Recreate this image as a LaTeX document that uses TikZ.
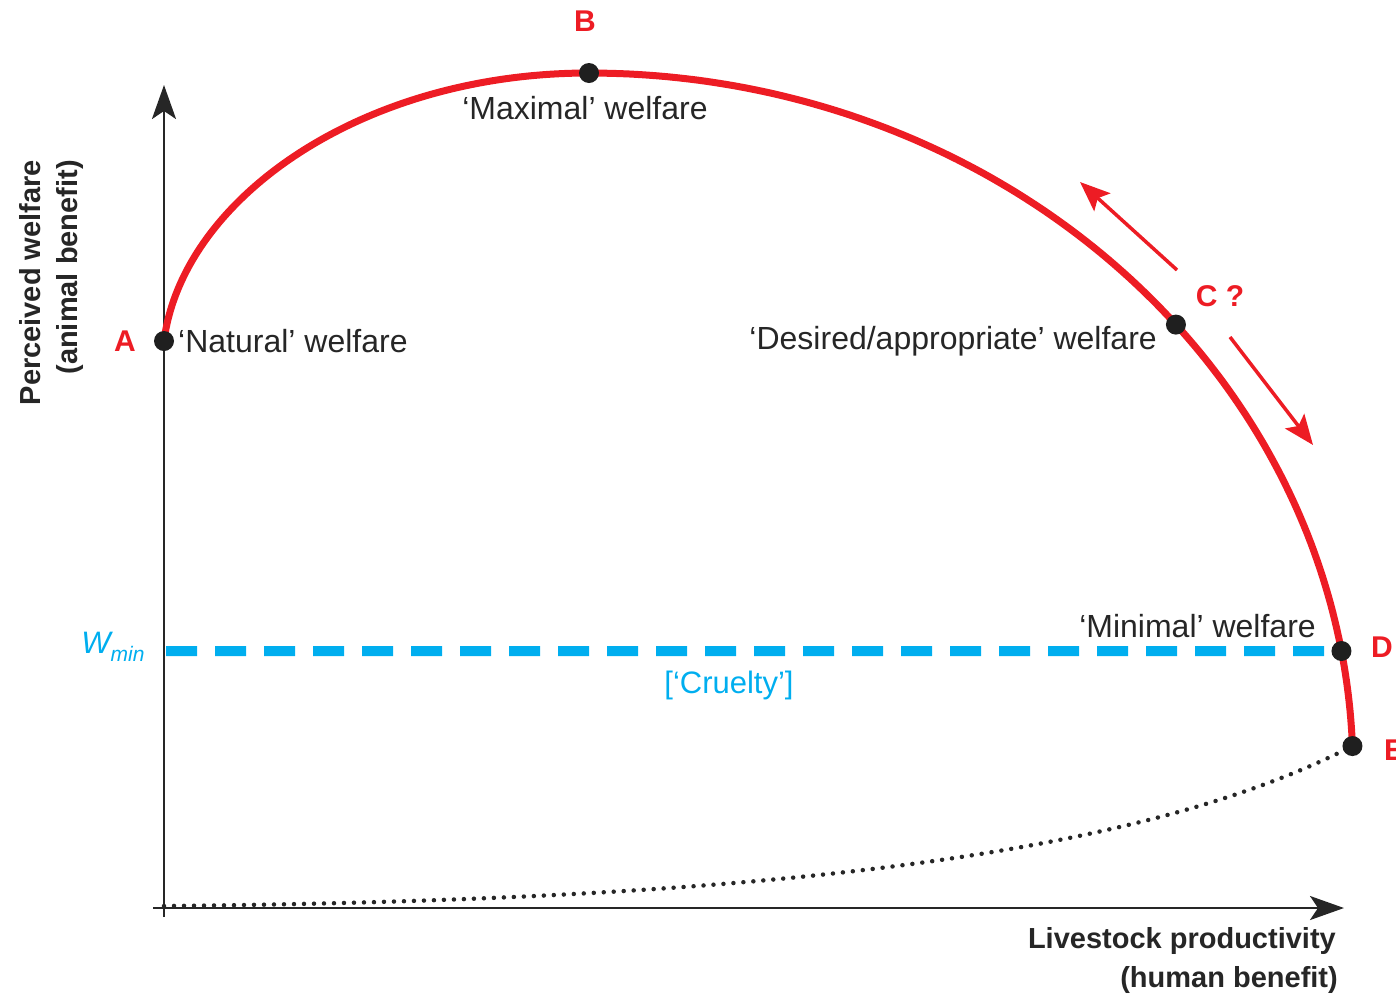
\documentclass[tikz,border=0pt]{standalone}
\usepackage{fontspec}
\setmainfont{Liberation Sans}
\usetikzlibrary{arrows.meta}
\definecolor{cred}{RGB}{237,28,36}
\definecolor{cblue}{RGB}{0,174,239}
\begin{document}
\begin{tikzpicture}[x=1pt,y=-1pt,
  lbl/.style={font=\fontsize{32}{36}\selectfont, inner sep=0pt, text=black!85},
  ptlbl/.style={font=\fontsize{30}{36}\selectfont\bfseries, text=cred, inner sep=0pt},
  axlbl/.style={font=\fontsize{29}{34}\selectfont\bfseries, inner sep=0pt, text=black!85},
  bluelbl/.style={font=\fontsize{31}{36}\selectfont, inner sep=0pt, text=cblue},
  dotnode/.style={circle, fill=black!88, inner sep=0pt, minimum size=20pt},
  axisline/.style={line width=2.6pt, black!85},
  curveline/.style={line width=7pt, cred},
  carrow/.style={line width=3.5pt, cred, -{Stealth[length=30pt,width=24pt,inset=6pt]}},
  wline/.style={line width=10pt, cblue, dash pattern=on 31pt off 18pt},
  dotline/.style={line width=4.5pt, black!85, line cap=round, dash pattern=on 0pt off 10pt}
]
\useasboundingbox (0,0) rectangle (1396,997);

% coordinates
\coordinate (O) at (164,906);
\coordinate (Ybot) at (164,917);
\coordinate (Ytop) at (164,85);
\coordinate (Xl) at (153,908);
\coordinate (Xr) at (1344,908);
\coordinate (A) at (164,341);
\coordinate (B) at (589,73);
\coordinate (C) at ({589+764*cos(39.8)},{772-699*sin(39.8)});
\coordinate (D) at ({589+764*cos(9.97)},{772-699*sin(9.97)});
\coordinate (E) at ({589+764*cos(2.13)},{772-699*sin(2.13)});
\coordinate (W) at (166,651);

% axes
\draw[axisline, -{Stealth[length=34pt,width=24pt,inset=8pt]}] (Ybot) -- (Ytop);
\draw[axisline, -{Stealth[length=34pt,width=24pt,inset=8pt]}] (Xl) -- (Xr);

% dotted curve
\draw[dotline] (O) .. controls (800,900) and (1150,850) .. (E);

% Wmin dashed line
\draw[wline] (W) -- (D);

% red curve
\draw[curveline, line join=round] (A) .. controls (182,200) and (360,73) .. (B)
  -- plot[domain=90:2.13, samples=120, variable=\t] ({589+764*cos(\t)},{772-699*sin(\t)});

% arrows at C
\coordinate (c1s) at (1177,270);
\coordinate (c1e) at (1080,182);
\coordinate (c2s) at (1230,337);
\coordinate (c2e) at (1313,445);
\draw[carrow] (c1s) -- (c1e);
\draw[carrow] (c2s) -- (c2e);

% dots
\node[dotnode] (nA) at (A) {};
\node[dotnode] (nB) at (B) {};
\node[dotnode] (nC) at (C) {};
\node[dotnode] (nD) at (D) {};
\node[dotnode] (nE) at (E) {};

% point labels
\node[ptlbl] (lA) at (125,341) {A};
\node[ptlbl] (lB) at (585,21) {B};
\node[ptlbl] (lC) at (1220,296) {C ?};
\node[ptlbl] (lD) at (1382,647) {D};
\node[ptlbl, anchor=west] (lE) at (1384,750) {E};

% text labels
\node[lbl] (tB) at (585,108) {‘Maximal’ welfare};
\node[lbl, anchor=west] (tA) at (178,341) {‘Natural’ welfare};
\node[lbl, anchor=east] (tC) at (1157,341) {‘Desired/appropriate’ welfare};
\node[lbl, anchor=east] (tD) at (1316,626) {‘Minimal’ welfare};
\node[bluelbl] (tW) at (113,647) {\itshape W\raisebox{-8pt}{\fontsize{21}{24}\selectfont min}};
\node[bluelbl] (tCr) at (729,685) {[‘Cruelty’]};

% axis labels
\node[axlbl, rotate=90, anchor=east] (ya1) at (30,160) {Perceived welfare};
\node[axlbl, rotate=90, anchor=east] (ya2) at (70,160) {(animal benefit)};
\node[axlbl, anchor=east] (xa1) at (1336,941) {Livestock productivity};
\node[axlbl, anchor=east] (xa2) at (1338,980) {(human benefit)};
\end{tikzpicture}
\end{document}
